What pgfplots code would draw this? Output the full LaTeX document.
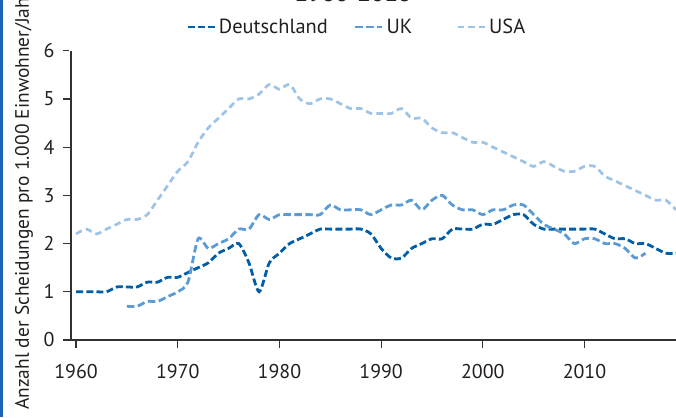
\documentclass[border=0pt]{standalone}
\usepackage{pgfplots}
\pgfplotsset{compat=1.18}
\usepackage{fontspec}
\setmainfont{PT Sans}
\definecolor{deC}{RGB}{0,94,168}
\definecolor{ukC}{RGB}{91,155,213}
\definecolor{usC}{RGB}{157,195,230}
\definecolor{txt}{RGB}{35,31,32}
\definecolor{axc}{RGB}{50,50,50}
\definecolor{bar}{RGB}{25,100,180}
\begin{document}
\begin{tikzpicture}[x=1bp,y=1bp]
\path[use as bounding box] (0,0) rectangle (676,417);
\fill[bar] (0,0) rectangle (2.6,417);
\node[anchor=base,font=\fontsize{24}{28}\selectfont\bfseries,text=txt,inner sep=0] at (353,415.3) {1960-2018};
\begin{axis}[
  at={(71bp,77bp)}, anchor=south west,
  scale only axis, width=605bp, height=289.3bp,
  xmin=1959.5, xmax=2019, ymin=0, ymax=6,
  axis x line*=bottom, axis y line*=left,
  axis line style={axc, line width=1.3bp, -},
  xtick={1960,1970,1980,1990,2000,2010},
  ytick={0,1,2,3,4,5,6},
  tick align=outside,
  major tick length=8bp,
  tick style={axc, line width=1.2bp},
  y tick style={shorten >=2.5bp},
  xticklabel style={/pgf/number format/1000 sep={}, yshift=-13bp},
  yticklabel style={xshift=-5bp},
  /pgf/number format/assume math mode=true,
  tick label style={font=\fontsize{20}{23}\selectfont, text=txt},
  ylabel={Anzahl der Scheidungen pro 1.000 Einwohner/Jahr},
  ylabel style={at={(axis description cs:-0.0777,0.482)}, anchor=center, rotate=0, font=\fontsize{19.5}{22}\selectfont, text=txt, inner sep=0},
  legend columns=3,
  legend style={draw=none, fill=none, at={(axis description cs:0.190,1.082)}, anchor=west, inner sep=0pt,
    font=\fontsize{20.5}{23}\selectfont, text=txt,
    nodes={inner sep=3bp},
    /tikz/every even column/.append style={column sep=23bp}},
  legend image code/.code={\draw[#1] (0bp,0bp) -- (27bp,0bp);},
  clip=false,
]
\addplot[deC, line width=2.8bp, dash pattern=on 7bp off 3.2bp, smooth, tension=0.45] coordinates {
(1960,1.0)(1961,1.0)(1962,1.0)(1963,1.0)(1964,1.1)(1965,1.1)(1966,1.1)(1967,1.2)(1968,1.2)(1969,1.3)
(1970,1.3)(1971,1.4)(1972,1.5)(1973,1.6)(1974,1.8)(1975,1.9)(1976,2.0)(1977,1.6)(1978,1.0)(1979,1.6)
(1980,1.8)(1981,2.0)(1982,2.1)(1983,2.2)(1984,2.3)(1985,2.3)(1986,2.3)(1987,2.3)(1988,2.3)(1989,2.2)
(1990,1.9)(1991,1.7)(1992,1.7)(1993,1.9)(1994,2.0)(1995,2.1)(1996,2.1)(1997,2.3)(1998,2.3)(1999,2.3)
(2000,2.4)(2001,2.4)(2002,2.5)(2003,2.6)(2004,2.6)(2005,2.4)(2006,2.3)(2007,2.3)(2008,2.3)(2009,2.3)
(2010,2.3)(2011,2.3)(2012,2.2)(2013,2.1)(2014,2.1)(2015,2.0)(2016,2.0)(2017,1.9)(2018,1.8)(2019,1.8)
};
\addlegendentry{Deutschland}
\addplot[ukC, line width=2.8bp, dash pattern=on 7.5bp off 3.5bp, smooth, tension=0.45] coordinates {
(1965,0.7)(1966,0.7)(1967,0.8)(1968,0.8)(1969,0.9)
(1970,1.0)(1971,1.2)(1972,2.1)(1973,1.9)(1974,2.0)(1975,2.1)(1976,2.3)(1977,2.3)(1978,2.6)(1979,2.5)
(1980,2.6)(1981,2.6)(1982,2.6)(1983,2.6)(1984,2.6)(1985,2.8)(1986,2.7)(1987,2.7)(1988,2.7)(1989,2.6)
(1990,2.7)(1991,2.8)(1992,2.8)(1993,2.9)(1994,2.7)(1995,2.9)(1996,3.0)(1997,2.8)(1998,2.7)(1999,2.7)
(2000,2.6)(2001,2.7)(2002,2.7)(2003,2.8)(2004,2.8)(2005,2.6)(2006,2.4)(2007,2.3)(2008,2.2)(2009,2.0)
(2010,2.1)(2011,2.1)(2012,2.0)(2013,2.0)(2014,1.9)(2015,1.7)(2016,1.8)
};
\addlegendentry{UK\rule{18bp}{0pt}}
\addplot[usC, line width=2.7bp, dash pattern=on 6.5bp off 4.2bp, smooth, tension=0.45] coordinates {
(1960,2.2)(1961,2.3)(1962,2.2)(1963,2.3)(1964,2.4)(1965,2.5)(1966,2.5)(1967,2.6)(1968,2.9)(1969,3.2)
(1970,3.5)(1971,3.7)(1972,4.1)(1973,4.4)(1974,4.6)(1975,4.8)(1976,5.0)(1977,5.0)(1978,5.1)(1979,5.3)
(1980,5.2)(1981,5.3)(1982,5.0)(1983,4.9)(1984,5.0)(1985,5.0)(1986,4.9)(1987,4.8)(1988,4.8)(1989,4.7)
(1990,4.7)(1991,4.7)(1992,4.8)(1993,4.6)(1994,4.6)(1995,4.4)(1996,4.3)(1997,4.3)(1998,4.2)(1999,4.1)
(2000,4.1)(2001,4.0)(2002,3.9)(2003,3.8)(2004,3.7)(2005,3.6)(2006,3.7)(2007,3.6)(2008,3.5)(2009,3.5)
(2010,3.6)(2011,3.6)(2012,3.4)(2013,3.3)(2014,3.2)(2015,3.1)(2016,3.0)(2017,2.9)(2018,2.9)(2019,2.7)
};
\addlegendentry{USA}
\end{axis}
\end{tikzpicture}
\end{document}
